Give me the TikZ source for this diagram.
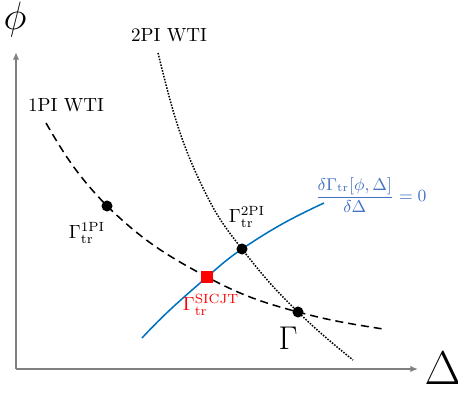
\documentclass[tikz,border=0pt]{standalone}
\usepackage{amsmath}
\usetikzlibrary{arrows.meta,calc}

\definecolor{axisgray}{RGB}{128,128,128}
\definecolor{curveblue}{RGB}{0,114,189}
\definecolor{labelblue}{RGB}{68,114,196}

\begin{document}
\begin{tikzpicture}[x=0.525pt,y=0.525pt]
  \useasboundingbox (0,0) rectangle (458,393);

      \coordinate (O) at (16,24);
  \coordinate (PhiTip) at (16,341);
  \coordinate (DeltaTip) at (418,24);
  \coordinate (PhiL) at (15,373);
  \coordinate (DeltaL) at (443,25);

  \draw[axisgray, line width=0.8pt, -{Latex[length=4pt,width=3.4pt]}] (O) -- (PhiTip);
  \draw[axisgray, line width=0.8pt, -{Latex[length=4pt,width=3.4pt]}] (O) -- (DeltaTip);
  \node[font=\huge] (phi) at (PhiL) {$\phi$};
  \node[font=\Huge] (delta) at (DeltaL) {$\Delta$};

      \coordinate (A) at (46,270);
  \coordinate (B) at (107,187);
  \coordinate (S) at (207,116);
  \coordinate (G) at (298,81);
  \coordinate (E) at (383,64);
  \coordinate (F) at (158,340);
  \coordinate (H) at (208,195);
  \coordinate (C) at (242,144);
  \coordinate (I) at (353,33);
  \coordinate (J) at (142,55);
  \coordinate (K) at (324,190);

  % 1PI, 2PI and the stationary curve
  \draw[line width=0.8pt, dash pattern=on 4.2pt off 2.6pt] (A) to[out=-60,in=134] (B)
    to[out=-44,in=152] (S) to[out=-28,in=165] (G) to[out=-15,in=171] (E);
  \draw[line width=0.8pt, dash pattern=on 0.8pt off 0.75pt] (F) to[out=-76,in=117] (H)
    to[out=-63,in=128] (C) to[out=-52,in=136] (G) to[out=-44,in=141] (I);
  \draw[curveblue, line width=0.8pt] (J) to[out=47,in=221] (S)
    to[out=41,in=214] (C) to[out=34,in=205] (K);

  \fill[black] (B) circle (2.9pt);
  \fill[black] (C) circle (2.9pt);
  \fill[black] (G) circle (2.9pt);
  \fill[red] ($(S)+(-2.9pt,-2.9pt)$) rectangle ++(5.8pt,5.8pt);

  \node (wti1) at (66,288) {1PI WTI};
  \node (wti2) at (169,358) {2PI WTI};
  \node (g1) at (87,160) {$\Gamma_{\text{tr}}^{\text{1PI}}$};
  \node (g2) at (247,176) {$\Gamma_{\text{tr}}^{\text{2PI}}$};
  \node[text=red] (gs) at (211,88) {$\Gamma_{\text{tr}}^{\text{SICJT}}$};
  \node[font=\LARGE] (g) at (288,55) {$\Gamma$};
  \node[font=\small, text=labelblue] (eq) at (371,198) {$\dfrac{\delta\Gamma_{\text{tr}}[\phi,\Delta]}{\delta\Delta}=0$};
\end{tikzpicture}
\end{document}
